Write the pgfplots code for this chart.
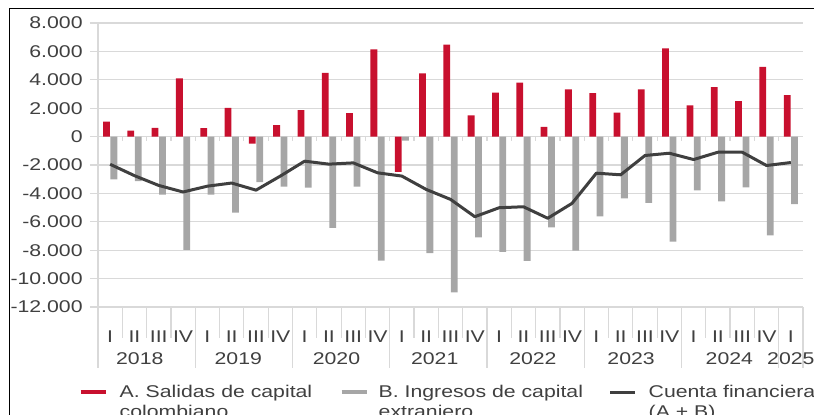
\documentclass[border=0pt]{standalone}
\usepackage{pgfplots}
\pgfplotsset{compat=1.18}
\usepackage{fontspec}
\setmainfont{Liberation Sans}[FakeStretch=1.25]

\definecolor{rojo}{HTML}{C8102E}
\definecolor{gris}{HTML}{A6A6A6}
\definecolor{linea}{HTML}{3F3F3F}
\definecolor{rejilla}{HTML}{D9D9D9}
\definecolor{texto}{HTML}{404040}

\newcommand{\fnt}{\fontsize{8.5}{10}\selectfont}

\begin{document}
\begin{tikzpicture}
\useasboundingbox (0,0) rectangle (407pt,207pt);
\clip (0,0) rectangle (407pt,207pt);
\begin{axis}[
    at={(49pt,53.5pt)}, anchor=south west,
    width=352.5pt, height=142pt, scale only axis,
    xmin=-0.5, xmax=28.5,
    ymin=-12000, ymax=8000,
    clip=false,
    axis lines*=left,
    axis line style={rejilla, line width=0.6pt},
    scaled y ticks=false,
    ytick={-12000,-10000,...,8000},
    yticklabels={-12.000,-10.000,-8.000,-6.000,-4.000,-2.000,0,2.000,4.000,6.000,8.000},
    xtick={0,...,28},
    xticklabels={I,II,III,IV,I,II,III,IV,I,II,III,IV,I,II,III,IV,I,II,III,IV,I,II,III,IV,I,II,III,IV,I},
    ymajorgrids,
    grid style={rejilla, line width=0.6pt},
    xtick style={draw=none},
    ytick style={rejilla, line width=0.6pt},
    tick align=outside,
    major tick length=4pt,
    ticklabel style={font=\fnt, text=texto},
    yticklabel style={inner sep=0pt, xshift=-3.5pt},
    xticklabel style={anchor=base, inner sep=0pt, yshift=-13.5pt},
]

% A. Salidas de capital colombiano
\addplot[ybar, bar width=3.4pt, bar shift=-1.85pt, fill=rojo, draw=none] coordinates {
    (0,1050) (1,420) (2,610) (3,4100) (4,600) (5,2030) (6,-500) (7,800)
    (8,1870) (9,4490) (10,1660) (11,6150) (12,-2480) (13,4460) (14,6480) (15,1500)
    (16,3090) (17,3810) (18,680) (19,3320) (20,3070) (21,1690) (22,3320) (23,6220)
    (24,2200) (25,3490) (26,2500) (27,4910) (28,2930)
};

% B. Ingresos de capital extranjero
\addplot[ybar, bar width=3.4pt, bar shift=1.85pt, fill=gris, draw=none] coordinates {
    (0,-3020) (1,-3130) (2,-4090) (3,-7980) (4,-4090) (5,-5360) (6,-3200) (7,-3530)
    (8,-3600) (9,-6430) (10,-3530) (11,-8730) (12,-280) (13,-8210) (14,-10970) (15,-7090)
    (16,-8120) (17,-8750) (18,-6390) (19,-8030) (20,-5620) (21,-4350) (22,-4660) (23,-7400)
    (24,-3790) (25,-4560) (26,-3580) (27,-6950) (28,-4750)
};

% Cuenta financiera (A + B)
\addplot[linea, line width=1.5pt, mark=none, line join=round] coordinates {
    (0,-1950) (1,-2750) (2,-3440) (3,-3900) (4,-3490) (5,-3270) (6,-3770) (7,-2780)
    (8,-1730) (9,-1940) (10,-1850) (11,-2550) (12,-2780) (13,-3720) (14,-4420) (15,-5640)
    (16,-5010) (17,-4940) (18,-5750) (19,-4700) (20,-2575) (21,-2690) (22,-1330) (23,-1170)
    (24,-1615) (25,-1100) (26,-1100) (27,-2035) (28,-1825)
};

% separators under the axis
\pgfplotsinvokeforeach{-0.5,0.5,...,28.5}{
    \draw[rejilla, line width=0.6pt] (axis cs:#1,-12000) -- ++(0pt,-15.5pt);
}
\pgfplotsinvokeforeach{-0.5,3.5,7.5,11.5,15.5,19.5,23.5,27.5,28.5}{
    \draw[rejilla, line width=0.6pt] (axis cs:#1,-12000) -- ++(0pt,-30.5pt);
}
\pgfplotsinvokeforeach{0.5,1.5,...,27.5}{
    \draw[rejilla, line width=0.6pt] (axis cs:#1,0) -- ++(0pt,-2pt);
}

% years
\begin{scope}[every node/.style={anchor=base, font=\fnt, text=texto, inner sep=0pt, yshift=-28.6pt}]
\node at (axis cs:1.22,-12000) {2018};
\node at (axis cs:5.27,-12000) {2019};
\node at (axis cs:9.31,-12000) {2020};
\node at (axis cs:13.35,-12000) {2021};
\node at (axis cs:17.39,-12000) {2022};
\node at (axis cs:21.43,-12000) {2023};
\node at (axis cs:25.47,-12000) {2024};
\node at (axis cs:28,-12000) {2025};
\end{scope}
\end{axis}

\begin{scope}[x=0.5pt, y=0.5pt]
% frame
\draw[black, line width=0.85pt] (9.5,-5) -- (9.5,405.5) -- (820,405.5);
% legend
\draw[rojo, line width=2pt] (80.7,22) -- (105.5,22);
\node[anchor=north west, inner sep=0pt, align=left, font=\fnt, text=texto] at (119.3,29) {A. Salidas de capital\\colombiano};
\draw[gris, line width=2pt] (341.7,22) -- (366.7,22);
\node[anchor=north west, inner sep=0pt, align=left, font=\fnt, text=texto] at (378.3,29) {B. Ingresos de capital\\extranjero};
\draw[linea, line width=1.5pt] (610,22) -- (635,22);
\node[anchor=north west, inner sep=0pt, align=left, font=\fnt, text=texto] at (648.3,29) {Cuenta financiera\\(A + B)};
\end{scope}
\end{tikzpicture}
\end{document}
